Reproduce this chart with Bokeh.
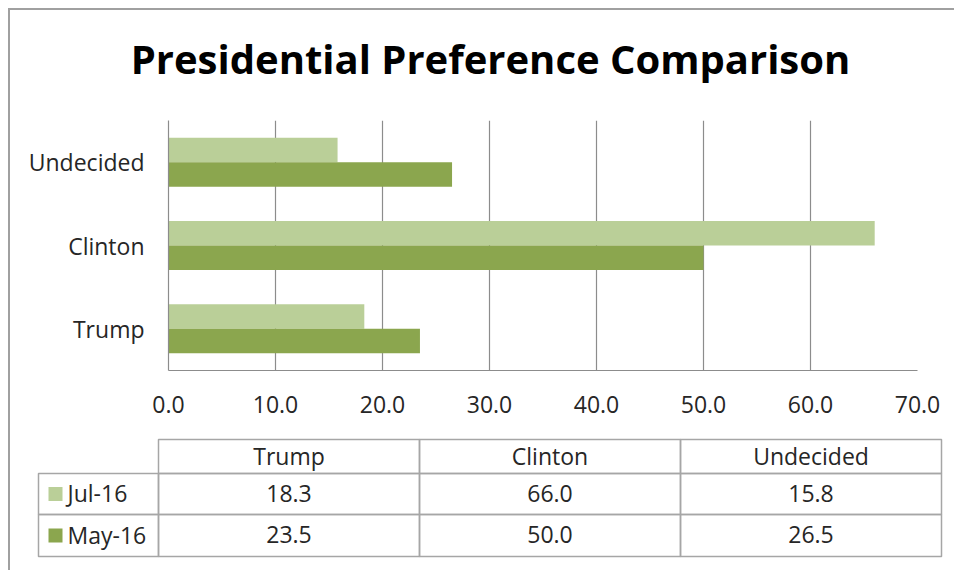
from bokeh.plotting import figure
from bokeh.layouts import column, row
from bokeh.models import (ColumnDataSource, FactorRange, Range1d, FixedTicker,
                          NumeralTickFormatter, Spacer)
from bokeh.transform import dodge
from bokeh.core.properties import value
from bokeh.embed import file_html
from bokeh.resources import INLINE

# ---- data ----
categories = ["Trump", "Clinton", "Undecided"]
series = ["Jul-16", "May-16"]
jul16 = [18.3, 66.0, 15.8]
may16 = [23.5, 50.0, 26.5]
x_ticks = [0, 10, 20, 30, 40, 50, 60, 70]
title_text = "Presidential Preference Comparison"

# ---- styles ----
LIGHT = "#BACF98"
DARK = "#8BA64E"
GRID = "#8c8c8c"
TABLE_LINE = "#a6a6a6"
BORDER = "#a0a0a0"
TEXT = "#262626"
FONT = "Open Sans"
FS = "23px"

W = 944

# ---- title strip ----
tt = figure(width=W, height=100, x_range=Range1d(0, W), y_range=Range1d(100, 0),
            output_backend="svg", toolbar_location=None, tools="",
            x_axis_type=None, y_axis_type=None, min_border=0)
tt.outline_line_color = None
tt.grid.visible = False
tt.text(x=[480], y=[48], text=[title_text], text_font=value(FONT),
        text_font_style="bold", text_font_size="40px", text_align="center",
        text_baseline="alphabetic", text_color="black")

# ---- bar chart ----
src = ColumnDataSource(dict(cat=categories, jul=jul16, may=may16))

p = figure(width=W, height=325, y_range=FactorRange(*categories, range_padding=0),
           x_range=Range1d(0, 70), output_backend="svg", toolbar_location=None,
           tools="", min_border_left=158, min_border_right=W - 907, min_border_top=10,
           min_border_bottom=65)
p.outline_line_color = None
p.background_fill_color = "white"
p.border_fill_color = "white"

bh = 0.294
p.hbar(y=dodge("cat", bh / 2, range=p.y_range), right="jul", left=0, height=bh,
       source=src, fill_color=LIGHT, line_color=None)
p.hbar(y=dodge("cat", -bh / 2, range=p.y_range), right="may", left=0, height=bh,
       source=src, fill_color=DARK, line_color=None)

p.xaxis.ticker = FixedTicker(ticks=x_ticks)
p.xaxis.formatter = NumeralTickFormatter(format="0.0")
for ax in (p.xaxis[0], p.yaxis[0]):
    ax.axis_line_color = GRID
    ax.axis_line_width = 1.2
    ax.major_tick_line_color = None
    ax.minor_tick_line_color = None
    ax.major_label_text_font = FONT
    ax.major_label_text_font_size = FS
    ax.major_label_text_color = TEXT
p.xaxis.major_label_standoff = 19
p.yaxis.major_label_standoff = 18
p.xgrid.grid_line_color = GRID
p.xgrid.grid_line_width = 1.2
p.xgrid.ticker = FixedTicker(ticks=x_ticks)
p.ygrid.grid_line_color = None

# ---- data table ----
t = figure(width=W, height=135, x_range=Range1d(0, W), y_range=Range1d(135, 0),
           output_backend="svg", toolbar_location=None, tools="",
           x_axis_type=None, y_axis_type=None, min_border=0)
t.outline_line_color = None
t.grid.visible = False
t.border_fill_color = "white"

col_edges = [148, 409, 670, 931]
row_edges = [4, 38, 79, 121]
label_left = 28

# header cells
t.quad(left=col_edges[:-1], right=col_edges[1:], top=[row_edges[0]] * 3,
       bottom=[row_edges[1]] * 3, fill_color=None, line_color=TABLE_LINE, line_width=1.5)
# data rows (label cell + 3 value cells)
lefts, rights, tops, bottoms = [], [], [], []
for r in range(2):
    edges = [label_left] + col_edges
    for c in range(4):
        lefts.append(edges[c]); rights.append(edges[c + 1])
        tops.append(row_edges[r + 1]); bottoms.append(row_edges[r + 2])
t.quad(left=lefts, right=rights, top=tops, bottom=bottoms, fill_color=None,
       line_color=TABLE_LINE, line_width=1.5)

centers = [(col_edges[i] + col_edges[i + 1]) / 2 for i in range(3)]
row_mid = [(row_edges[i] + row_edges[i + 1]) / 2 - 1 for i in range(3)]

t.text(x=centers, y=[row_mid[0]] * 3, text=categories, text_font=value(FONT),
       text_font_size=FS, text_align="center", text_baseline="middle", text_color=TEXT)
vals = [f"{v:.1f}" for v in jul16] + [f"{v:.1f}" for v in may16]
t.text(x=centers * 2, y=[row_mid[1]] * 3 + [row_mid[2]] * 3, text=vals,
       text_font=value(FONT), text_font_size=FS, text_align="center",
       text_baseline="middle", text_color=TEXT)
# legend keys
t.rect(x=[45, 45], y=[m + 1 for m in row_mid[1:]], width=14, height=14,
       fill_color=[LIGHT, DARK], line_color=None)
t.text(x=[57, 57], y=row_mid[1:], text=series, text_font=value(FONT), text_font_size=FS,
       text_align="left", text_baseline="middle", text_color=TEXT)

top_bar = Spacer(width=W + 2, height=2, styles={"background-color": BORDER})
left_bar = Spacer(width=2, height=560, styles={"background-color": BORDER})
body = column(column(tt), p, column(t), spacing=0)
layout = column(top_bar, row(left_bar, body, spacing=0), spacing=0,
                styles={"margin-left": "8px", "margin-top": "8px"})

open("out.html", "w").write(file_html(layout, INLINE))
